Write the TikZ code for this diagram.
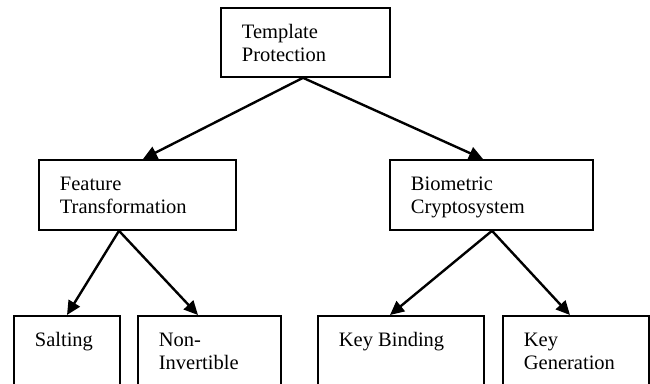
\documentclass[tikz,border=0pt]{standalone}
\usepackage{fontspec}
\setmainfont{Liberation Serif}
\usetikzlibrary{arrows.meta}
\newcommand{\bxt}[3]{\parbox[t][#2][t]{#1}{\raggedright\leftskip=21pt\rule{0pt}{31pt}#3}}
\begin{document}
\begin{tikzpicture}[x=1pt,y=1pt,
  tbox/.style={draw=black, line width=1.8pt, inner sep=0pt, anchor=north west,
    font=\fontsize{20.5}{23}\selectfont},
  arr/.style={line width=2.4pt, -{Triangle[length=14pt,width=13pt]}}]
\useasboundingbox (0,0) rectangle (650,-383);
\clip (0,0) rectangle (650,-383);
\fill[white] (0,0) rectangle (650,-383);

\node[tbox] (tp) at (220,-7) {\bxt{169pt}{69pt}{Template\\Protection}};
\node[tbox] (ft) at (38,-159) {\bxt{197pt}{70pt}{Feature\\Transformation}};
\node[tbox] (bc) at (389,-159) {\bxt{203pt}{70pt}{Biometric\\Cryptosystem}};
\node[tbox] (sa) at (13,-315) {\bxt{106pt}{90pt}{Salting}};
\node[tbox] (ni) at (137,-315) {\bxt{143pt}{90pt}{Non-\\Invertible}};
\node[tbox] (kb) at (317,-315) {\bxt{166pt}{90pt}{Key Binding}};
\node[tbox] (kg) at (502,-315) {\bxt{146pt}{90pt}{Key\\Generation}};

\draw[arr] ([xshift=83pt]tp.south west) -- ([xshift=105pt]ft.north west);
\draw[arr] ([xshift=83pt]tp.south west) -- ([xshift=94pt]bc.north west);
\draw[arr] ([xshift=81pt]ft.south west) -- ([xshift=54pt]sa.north west);
\draw[arr] ([xshift=81pt]ft.south west) -- ([xshift=61pt]ni.north west);
\draw[arr] ([xshift=103pt]bc.south west) -- ([xshift=73pt]kb.north west);
\draw[arr] ([xshift=103pt]bc.south west) -- ([xshift=68pt]kg.north west);
\end{tikzpicture}
\end{document}
